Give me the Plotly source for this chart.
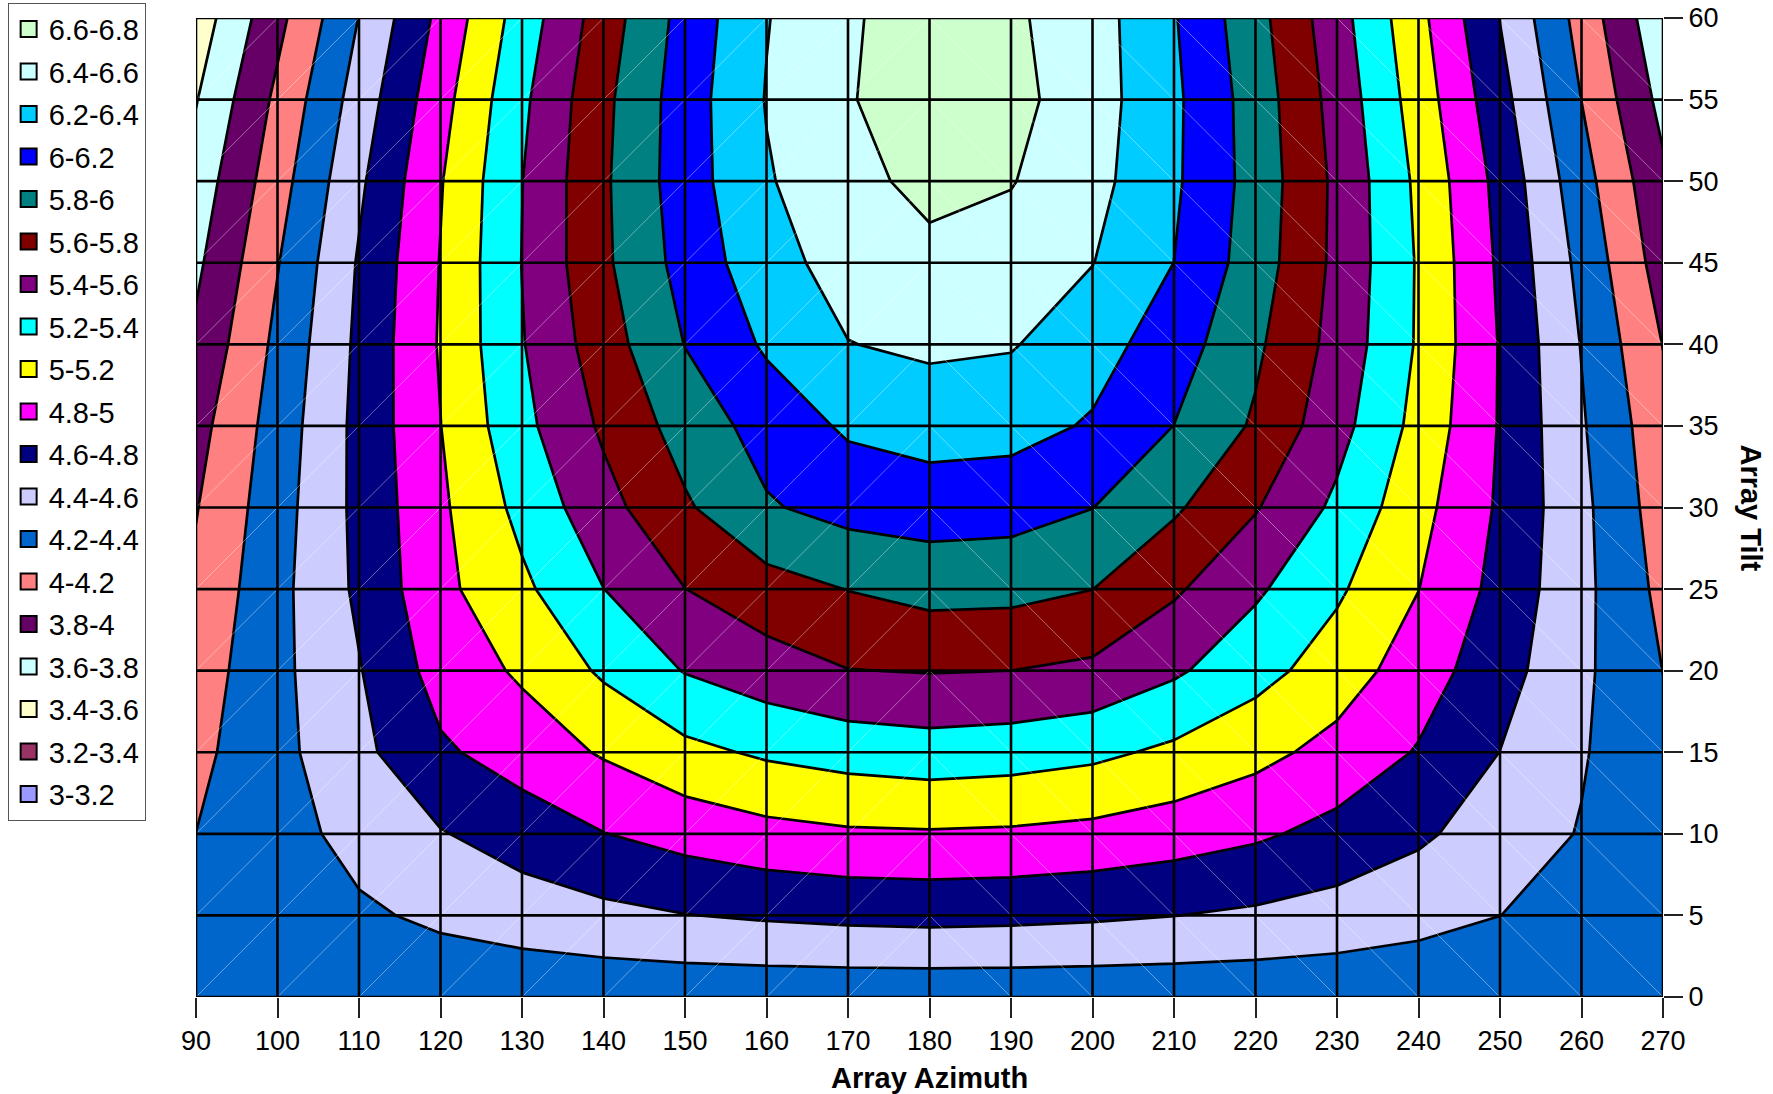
import plotly.graph_objects as go

# ---- data ----
azimuth = [90, 100, 110, 120, 130, 140, 150, 160, 170, 180, 190, 200, 210, 220, 230, 240, 250, 260, 270]
tilt = [0, 5, 10, 15, 20, 25, 30, 35, 40, 45, 50, 55, 60]

t00 = [4.26, 4.26, 4.26, 4.26, 4.26, 4.26, 4.26, 4.26, 4.26, 4.26, 4.26, 4.26, 4.26, 4.26, 4.26, 4.26, 4.26, 4.26, 4.26]
t05 = [4.23, 4.30, 4.368, 4.439, 4.496, 4.549, 4.595, 4.625, 4.647, 4.658, 4.649, 4.63, 4.603, 4.568, 4.521, 4.463, 4.401, 4.34, 4.28]
t10 = [4.201, 4.32, 4.468, 4.588, 4.693, 4.795, 4.874, 4.939, 4.974, 4.982, 4.972, 4.945, 4.896, 4.832, 4.738, 4.634, 4.50, 4.389, 4.27]
t15 = [4.15, 4.344, 4.55, 4.77, 4.89, 5.02, 5.148, 5.23, 5.28, 5.312, 5.29, 5.245, 5.16, 5.06, 4.934, 4.785, 4.598, 4.417, 4.24]
t20 = [4.10, 4.349, 4.588, 4.88, 5.03, 5.23, 5.41, 5.51, 5.595, 5.61, 5.60, 5.56, 5.43, 5.27, 5.104, 4.896, 4.68, 4.441, 4.198]
t25 = [4.04, 4.343, 4.637, 4.949, 5.16, 5.398, 5.598, 5.72, 5.805, 5.868, 5.86, 5.802, 5.629, 5.431, 5.23, 5.003, 4.737, 4.454, 4.147]
t30 = [3.99, 4.319, 4.651, 4.966, 5.258, 5.531, 5.774, 5.98, 6.07, 6.096, 6.08, 6.003, 5.829, 5.615, 5.359, 5.066, 4.772, 4.45, 4.10]
t35 = [3.93, 4.289, 4.655, 4.997, 5.346, 5.632, 5.883, 6.078, 6.23, 6.285, 6.27, 6.18, 5.998, 5.773, 5.472, 5.137, 4.786, 4.421, 4.064]
t40 = [3.84, 4.247, 4.641, 5.018, 5.388, 5.709, 6.005, 6.228, 6.395, 6.436, 6.415, 6.28, 6.099, 5.837, 5.531, 5.178, 4.788, 4.392, 3.995]
t45 = [3.76, 4.19, 4.619, 5.008, 5.404, 5.764, 6.073, 6.325, 6.48, 6.547, 6.514, 6.405, 6.199, 5.901, 5.554, 5.181, 4.767, 4.345, 3.907]
t50 = [3.684, 4.117, 4.564, 4.987, 5.396, 5.770, 6.106, 6.382, 6.54, 6.655, 6.61, 6.465, 6.232, 5.921, 5.558, 5.159, 4.738, 4.279, 3.84]
t55 = [3.59, 4.044, 4.489, 4.928, 5.36, 5.753, 6.103, 6.41, 6.59, 6.68, 6.66, 6.49, 6.239, 5.909, 5.525, 5.107, 4.671, 4.198, 3.74]
t60 = [3.486, 3.944, 4.405, 4.853, 5.292, 5.699, 6.072, 6.39, 6.59, 6.64, 6.632, 6.49, 6.215, 5.869, 5.48, 5.057, 4.595, 4.126, 3.644]

z_rows = [t00, t05, t10, t15, t20, t25, t30, t35, t40, t45, t50, t55, t60]

# contour bands (low -> high) and their colours
band_labels = ["3-3.2", "3.2-3.4", "3.4-3.6", "3.6-3.8", "3.8-4", "4-4.2", "4.2-4.4",
               "4.4-4.6", "4.6-4.8", "4.8-5", "5-5.2", "5.2-5.4", "5.4-5.6", "5.6-5.8",
               "5.8-6", "6-6.2", "6.2-6.4", "6.4-6.6", "6.6-6.8"]
band_colors = ["#9999FF", "#993366", "#FFFFCC", "#CCFFFF", "#660066", "#FF8080", "#0066CC",
               "#CCCCFF", "#000080", "#FF00FF", "#FFFF00", "#00FFFF", "#800080", "#800000",
               "#008080", "#0000FF", "#00CCFF", "#CCFFFF", "#CCFFCC"]
level_start, level_end, level_step = 3.0, 6.8, 0.2

x_ticks = azimuth
y_ticks = tilt
split_az = 180  # cells left of this show "/" seams, right of it "\" seams

FONT = "Liberation Sans, Arial, sans-serif"

# colourscale: one stop per fill region (below first level, 19 bands, above last level)
region_colors = ["#FFFFFF"] + band_colors + ["#FFFFFF"]
n_reg = len(region_colors)
colorscale = [[i / (n_reg - 1), c] for i, c in enumerate(region_colors)]

fig = go.Figure()

fig.add_trace(go.Contour(
    x=azimuth, y=tilt, z=z_rows,
    contours=dict(start=level_start, end=level_end, size=level_step, coloring="fill"),
    colorscale=colorscale,
    line=dict(color="black", width=2.7, smoothing=0),
    showscale=False, hoverinfo="skip", showlegend=False,
))

# faint triangulation seams inside each grid cell
dx, dy = [], []
for i in range(len(azimuth) - 1):
    for j in range(len(tilt) - 1):
        xa, xb = azimuth[i], azimuth[i + 1]
        ya, yb = tilt[j], tilt[j + 1]
        if xb <= split_az:
            dx += [xa, xb, None]
            dy += [ya, yb, None]
        else:
            dx += [xa, xb, None]
            dy += [yb, ya, None]
fig.add_trace(go.Scatter(x=dx, y=dy, mode="lines", line=dict(color="rgba(255,255,255,0.4)", width=1),
                         hoverinfo="skip", showlegend=False))

# legend entries (highest band first)
for lab, col in zip(band_labels[::-1], band_colors[::-1]):
    fig.add_trace(go.Scatter(
        x=[None], y=[None], mode="markers", name=lab, legendgroup=lab,
        marker=dict(symbol="square", size=16, color=col, line=dict(color="black", width=2)),
    ))

# grid lines drawn above the filled contours
shapes = []
for xv in x_ticks:
    shapes.append(dict(type="line", xref="x", yref="y", x0=xv, x1=xv, y0=min(tilt), y1=max(tilt),
                       line=dict(color="black", width=2.6), layer="above"))
for yv in y_ticks:
    shapes.append(dict(type="line", xref="x", yref="y", x0=min(azimuth), x1=max(azimuth), y0=yv, y1=yv,
                       line=dict(color="black", width=2.6), layer="above"))

fig.update_layout(
    width=1773, height=1094,
    margin=dict(l=196, r=110, t=18, b=97, autoexpand=False),
    paper_bgcolor="white", plot_bgcolor="white",
    font=dict(family=FONT, size=27, color="black"),
    shapes=shapes,
    showlegend=True,
    legend=dict(
        x=-0.1284, y=1.0157, xanchor="left", yanchor="top",
        bgcolor="white", bordercolor="#555555", borderwidth=1,
        font=dict(family=FONT, size=29, color="black"),
        traceorder="grouped", itemwidth=30, tracegroupgap=1.8, maxheight=1000,
    ),
    xaxis=dict(
        range=[min(azimuth), max(azimuth)], tickmode="array", tickvals=x_ticks,
        ticktext=[str(v) for v in x_ticks],
        ticks="outside", ticklen=20, tickwidth=1.5, tickcolor="#222222",
        showgrid=False, zeroline=False, showline=False, automargin=False,
        tickfont=dict(family=FONT, size=27, color="black"),
    ),
    yaxis=dict(
        range=[min(tilt), max(tilt)], side="right", tickmode="array", tickvals=y_ticks,
        ticktext=[str(v) for v in y_ticks],
        ticks="outside", ticklen=19, tickwidth=1.5, tickcolor="#222222",
        showgrid=False, zeroline=False, showline=False, automargin=False,
        tickfont=dict(family=FONT, size=27, color="black"),
    ),
    annotations=[
        dict(text="<b>Array Azimuth</b>", xref="paper", yref="paper", x=0.5, y=-0.0827,
             xanchor="center", yanchor="middle", showarrow=False,
             font=dict(family=FONT, size=29, color="black")),
        dict(text="<b>Array Tilt</b>", xref="paper", yref="paper", x=1.06, y=0.5,
             xanchor="center", yanchor="middle", showarrow=False, textangle=90,
             font=dict(family=FONT, size=29, color="black")),
    ],
)

fig.write_html("out.html", config={"displayModeBar": False},
               post_script="document.body.style.margin='0';")
